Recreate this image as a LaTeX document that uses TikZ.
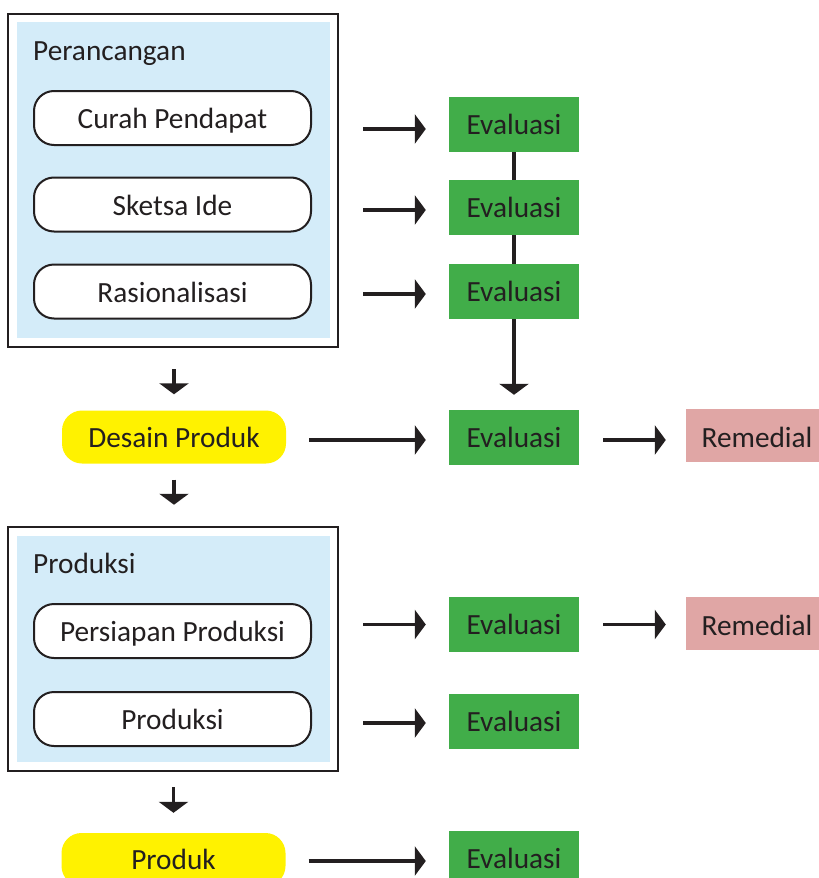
\documentclass[tikz,border=0pt]{standalone}
\usepackage{fontspec}
\setmainfont{Carlito}
\usetikzlibrary{arrows.meta,calc}
\definecolor{txt}{HTML}{231F20}
\definecolor{panelblue}{HTML}{D4ECF9}
\definecolor{evgreen}{HTML}{41AD49}
\definecolor{rempink}{HTML}{E0A6A5}
\definecolor{prodyellow}{HTML}{FFF200}
\begin{document}
\begin{tikzpicture}[x=1pt,y=-1pt,
  every node/.style={font=\fontsize{29.3}{35}\selectfont, text=txt, inner sep=0pt, text height=20pt, text depth=0pt},
  frame/.style={draw=txt, line width=2.5pt, fill=white, minimum width=330pt},
  panel/.style={fill=panelblue, minimum width=313pt},
  stepbox/.style={draw=txt, line width=2pt, fill=white, rounded corners=20pt, minimum width=277pt, minimum height=54pt, text height=21pt},
  evalbox/.style={fill=evgreen, minimum width=130pt, minimum height=55pt, text height=19pt},
  remedbox/.style={fill=rempink, minimum width=142pt, minimum height=53pt, text height=23pt},
  yellowbox/.style={fill=prodyellow, rounded corners=20pt, minimum width=224pt, minimum height=53pt},
  arr/.style={draw=txt, line width=3.5pt, -{Triangle[length=11pt,width=29pt]}},
  vline/.style={draw=txt, line width=3.5pt}
]
\useasboundingbox (0,0) rectangle (819,878);

% Perancangan group
\node[frame, minimum height=333pt] (frameA) at (173,180.5) {};
\node[panel, minimum height=316pt] (panelA) at (173.5,180) {};
\node[anchor=base west] (labA) at (33,60) {Perancangan};
\node[stepbox] (c1) at (172.5,118) {Curah Pendapat};
\node[stepbox] (c2) at (172.5,204.5) {Sketsa Ide};
\node[stepbox] (c3) at (172.5,291.5) {Rasionalisasi};

% Evaluasi column
\node[evalbox] (ev1) at (514,124.5) {Evaluasi};
\node[evalbox] (ev2) at (514,207.5) {Evaluasi};
\node[evalbox] (ev3) at (514,291.5) {Evaluasi};
\node[evalbox] (ev4) at (514,437.5) {Evaluasi};
\node[evalbox] (ev5) at (514,624.5) {Evaluasi};
\node[evalbox] (ev6) at (514,721.5) {Evaluasi};
\node[evalbox] (ev7) at (514,858.5) {Evaluasi};

% Desain Produk
\node[yellowbox] (desain) at (174,437) {Desain Produk};

% Remedial
\node[remedbox] (rem1) at (757,435.5) {Remedial};
\node[remedbox] (rem2) at (757,623.5) {Remedial};

% Produksi group
\node[frame, minimum height=244pt] (frameB) at (173,649) {};
\node[panel, minimum height=226pt] (panelB) at (173.5,649) {};
\node[anchor=base west] (labB) at (33,573) {Produksi};
\node[stepbox] (p1) at (172.5,631) {Persiapan Produksi};
\node[stepbox] (p2) at (172.5,719) {Produksi};

% Produk
\node[yellowbox] (produk) at (173.5,859.5) {Produk};

% Horizontal arrows
\draw[arr, shorten <=51pt, shorten >=23pt] ($(c1.east |- ev1.west)+(0,4.5)$) -- ($(ev1.west)+(0,4.5)$);
\draw[arr, shorten <=51pt, shorten >=23pt] ($(c2.east |- ev2.west)+(0,2.5)$) -- ($(ev2.west)+(0,2.5)$);
\draw[arr, shorten <=51pt, shorten >=23pt] ($(c3.east |- ev3.west)+(0,2.5)$) -- ($(ev3.west)+(0,2.5)$);
\draw[arr, shorten <=23pt, shorten >=23pt] ($(desain.east |- ev4.west)+(0,2.5)$) -- ($(ev4.west)+(0,2.5)$);
\draw[arr, shorten <=24pt, shorten >=20pt] ($(ev4.east)+(0,2.5)$) -- ($(rem1.west |- ev4.east)+(0,2.5)$);
\draw[arr, shorten <=51pt, shorten >=23pt] (p1.east |- ev5.west) -- (ev5.west);
\draw[arr, shorten <=24pt, shorten >=20pt] (ev5.east) -- (rem2.west |- ev5.east);
\draw[arr, shorten <=51pt, shorten >=23pt] ($(p2.east |- ev6.west)+(0,1.5)$) -- ($(ev6.west)+(0,1.5)$);
\draw[arr, shorten <=23pt, shorten >=23pt] ($(produk.east |- ev7.west)+(0,2.5)$) -- ($(ev7.west)+(0,2.5)$);

% Vertical evaluation chain
\draw[vline] (ev1.south) -- (ev2.north);
\draw[vline] (ev2.south) -- (ev3.north);
\draw[arr, shorten >=15pt] (ev3.south) -- (ev4.north);

% Down arrows on left
\draw[arr, shorten <=21pt, shorten >=16pt] (frameA.south -| desain.north) -- (desain.north);
\draw[arr, shorten <=16pt, shorten >=21pt] (desain.south) -- (desain.south |- frameB.north);
\draw[arr, shorten <=15pt, shorten >=20pt] (frameB.south -| produk.north) -- (produk.north);
\end{tikzpicture}
\end{document}
